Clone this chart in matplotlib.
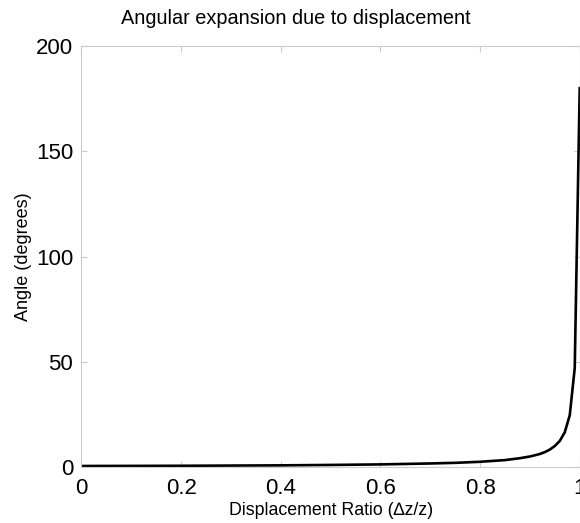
import matplotlib
matplotlib.use("Agg")
import matplotlib.pyplot as plt

plt.rcParams['font.family'] = ['Liberation Sans', 'DejaVu Sans']

# displacement ratio (dz/z) and resulting angle in degrees
ratio = [0.0, 0.1, 0.2, 0.3, 0.4, 0.5, 0.6, 0.7, 0.75, 0.8, 0.85, 0.88,
         0.9, 0.92, 0.93, 0.94, 0.95, 0.96, 0.97, 0.98, 0.99, 1.0]
angle = [0.5, 0.55, 0.6, 0.7, 0.8, 1.0, 1.25, 1.7, 2.0, 2.5, 3.3, 4.2,
         5.0, 6.2, 7.1, 8.3, 10.0, 12.4, 16.5, 24.6, 47.0, 180.0]

x_ticks = [0, 0.2, 0.4, 0.6, 0.8, 1]
x_labels = ['0', '0.2', '0.4', '0.6', '0.8', '1']
y_ticks = [0, 50, 100, 150, 200]

fig = plt.figure(figsize=(5.8, 5.23), dpi=100)
ax = fig.add_axes([0.1405, 0.107, 0.859, 0.805])

ax.plot(ratio, angle, color='black', linewidth=1.9, solid_joinstyle='round')

ax.set_xlim(0, 1)
ax.set_ylim(0, 200)
ax.set_xticks(x_ticks)
ax.set_xticklabels(x_labels)
ax.set_yticks(y_ticks)

grey = '#cccccc'
for sp in ax.spines.values():
    sp.set_color(grey)
    sp.set_linewidth(0.8)
ax.tick_params(direction='in', length=4, width=0.8, color=grey,
               top=True, right=True, labelsize=16)
ax.tick_params(axis='x', pad=8)
ax.tick_params(axis='y', pad=6)

# title sits a bit left of the axes centre in the original
ax.set_title('Angular expansion due to displacement', fontsize=14.3,
             x=0.431, pad=16)
ax.set_xlabel('Displacement Ratio (\u2206z/z)', fontsize=12.8, labelpad=2)
ax.set_ylabel('Angle (degrees)', fontsize=13, labelpad=3)

fig.savefig('out.png', dpi=100)
